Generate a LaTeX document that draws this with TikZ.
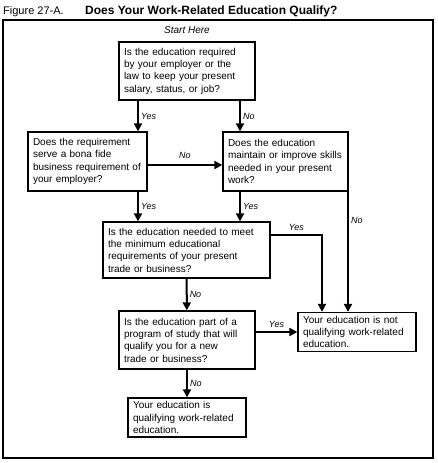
\documentclass[tikz,border=0pt]{standalone}
\usepackage{fontspec}
\setmainfont{Liberation Sans}
\usetikzlibrary{arrows.meta}

\begin{document}
\begin{tikzpicture}[x=1pt,y=-1pt,
   box/.style={draw,line width=1.3pt,inner xsep=5pt,inner ysep=0pt,align=left,
     font=\fontsize{10}{12.3}\selectfont},
   arr/.style={-{Triangle[length=8pt,width=8pt]},line width=2pt},
   lbl/.style={font=\fontsize{9}{10}\selectfont\itshape,inner sep=2pt}]
   \useasboundingbox (0,0) rectangle (437,463);
   % heading and frame
   \node[anchor=base west,inner sep=0pt,font=\fontsize{11}{13}\selectfont] (fig) at (3,14) {Figure 27-A.};
   \node[anchor=base west,inner sep=0pt,font=\fontsize{12}{14}\selectfont\bfseries] (head) at (85,14) {Does Your Work-Related Education Qualify?};
   \draw[line width=1.3pt] (3,20) rectangle (433,458);
   \node[font=\fontsize{10}{12}\selectfont\itshape] (start) at (187,30) {Start Here};

   % questions
   \node[box,text width=126pt,minimum height=58pt] (q1) at (187,71)
     {Is the education required\\by your employer or the\\law to keep your present\\salary, status, or job?};
   \node[box,text width=109pt,minimum height=59pt] (q2) at (87.5,161.5)
     {Does the requirement\\serve a bona fide\\business requirement of\\your employer?};
   \node[box,text width=115pt,minimum height=59pt] (q3) at (285.5,161.5)
     {Does the education\\maintain or improve skills\\needed in your present\\work?};
   \node[box,text width=157pt,minimum height=56pt] (q4) at (186.5,250)
     {Is the education needed to meet\\the minimum educational\\requirements of your present\\trade or business?};
   \node[box,text width=126pt,minimum height=58pt] (q5) at (187,340)
     {Is the education part of a\\program of study that will\\qualify you for a new\\trade or business?};
   % answers
   \node[box,text width=108pt,minimum height=39pt] (notq) at (357,332)
     {Your education is not\\qualifying work-related\\education.};
   \node[box,text width=108pt,minimum height=39pt] (isq) at (187,417.5)
     {Your education is\\qualifying work-related\\education.};

   % where the connectors run
   \coordinate (xl) at (138,0);
   \coordinate (xr) at (240,0);
   \coordinate (xn) at (322,0);
   \coordinate (xf) at (348,0);
   \coordinate (yn) at (0,165);
   \coordinate (yy) at (0,235);
   \coordinate (ya) at (0,332);

   \draw[arr] (q1.south -| xl) -- node[lbl,right]{Yes} (q2.north -| xl);
   \draw[arr] (q1.south -| xr) -- node[lbl,right]{No} (q3.north -| xr);
   \draw[arr] (q2.east |- yn) -- node[lbl,above=3pt]{No} (q3.west |- yn);
   \draw[arr] (q2.south -| xl) -- node[lbl,right]{Yes} (q4.north -| xl);
   \draw[arr] (q3.south -| xr) -- node[lbl,right]{Yes} (q4.north -| xr);
   \draw[arr] (q3.south -| xf) -- node[lbl,right,pos=0.24]{No} (notq.north -| xf);
   \draw[arr] (q4.east |- yy) -| node[lbl,above=1pt,pos=0.25]{Yes} (notq.north -| xn);
   \draw[arr] (q4) -- node[lbl,right]{No} (q5);
   \draw[arr] (q5.east |- ya) -- node[lbl,above=1pt]{Yes} (notq.west |- ya);
   \draw[arr] (q5) -- node[lbl,right]{No} (isq);
\end{tikzpicture}
\end{document}
